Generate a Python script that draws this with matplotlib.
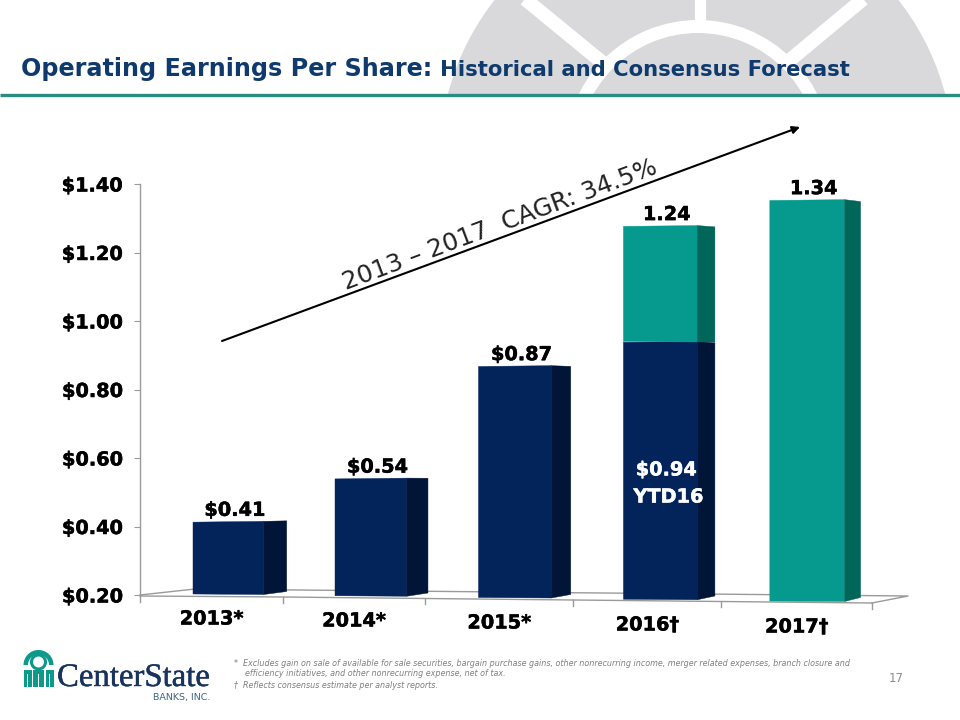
import matplotlib
matplotlib.use("Agg")
import matplotlib.pyplot as plt
import matplotlib.patheffects as pe
from matplotlib.patches import Circle, Wedge, Rectangle, Polygon

# ---- data ----
categories = ["2013*", "2014*", "2015*", "2016†", "2017†"]
base_values = [0.41, 0.54, 0.87, 0.945, None]
forecast_increment = [None, None, None, 0.335, 1.16]
value_labels = ["$0.41", "$0.54", "$0.87", "1.24", "1.34"]
y_ticks = [0.20, 0.40, 0.60, 0.80, 1.00, 1.20, 1.40]
y_tick_labels = ["$0.20", "$0.40", "$0.60", "$0.80", "$1.00", "$1.20", "$1.40"]
ytd_value_label = "$0.94"
ytd_period_label = "YTD16"
cagr_label = "2013 – 2017  CAGR: 34.5%"
title_main = "Operating Earnings Per Share:"
title_sub = "Historical and Consensus Forecast"
footnote_1a = "*  Excludes gain on sale of available for sale securities, bargain purchase gains, other nonrecurring income, merger related expenses, branch closure and"
footnote_1b = "efficiency initiatives, and other nonrecurring expense, net of tax."
footnote_2 = "†  Reflects consensus estimate per analyst reports."
page_number = "17"

# ---- style ----
NAVY, NAVY_SIDE = "#03245B", "#011538"
TEAL, TEAL_SIDE = "#069A8E", "#00665A"
GRID = "#9A9A9A"
W, H = 960, 720
AX_L, AX_R, AX_T, AX_B = 140, 872, 184, 595
PX_X = (AX_R - AX_L) / 5.0
PX_Y = (AX_B - AX_T) / 1.2
HEAVY_K = [pe.withStroke(linewidth=0.35, foreground="black")]
HEAVY_W = [pe.withStroke(linewidth=0.35, foreground="white")]
LABEL_SIZE = 13.9

fig = plt.figure(figsize=(9.6, 7.2), dpi=100, facecolor="white")

# ---- slide decoration, in pixel space ----
bg = fig.add_axes([0, 0, 1, 1], zorder=0)
bg.set_xlim(0, W); bg.set_ylim(H, 0); bg.axis("off")
EMB = "#D9D9DB"
bg.add_patch(Circle((696.5, 159), 257, fc=EMB, ec="none", zorder=1))
bg.add_patch(Wedge((698, 153), 133, 0, 360, width=13, fc="white", ec="none", zorder=2))
bg.plot([699.5, 699.5], [-5, 22], color="white", lw=8, zorder=2, solid_capstyle="butt")
bg.plot([514, 603], [-10, 63], color="white", lw=10, zorder=2, solid_capstyle="butt")
bg.plot([874, 790], [-10, 60], color="white", lw=10, zorder=2, solid_capstyle="butt")
bg.add_patch(Rectangle((0, 94), W, H, fc="white", ec="none", zorder=3))
bg.plot([0, W], [94.5, 94.5], color="#2A8C82", lw=2.4, zorder=4, solid_capstyle="butt")
bg.text(21, 76, title_main, color="#0F3A6D", fontsize=17.2, fontweight="bold", zorder=5)
bg.text(440, 76, title_sub, color="#0F3A6D", fontsize=15.2, fontweight="bold", zorder=5)

# logo
LT = "#0E9A8A"
bg.add_patch(Wedge((38.5, 665), 15, 180, 360, fc=LT, ec="none", zorder=5))
bg.add_patch(Wedge((38.5, 665), 10.5, 180, 360, fc="white", ec="none", zorder=6))
bg.add_patch(Circle((38.5, 662), 7, fc="white", ec=LT, lw=2.2, zorder=7))
for x0, wd in [(23.5, 8), (33, 11), (45.5, 8)]:
    bg.add_patch(Rectangle((x0, 670), wd, 17, fc=LT, ec="none", zorder=7))
    bg.add_patch(Rectangle((x0 + wd / 2 - 0.8, 674), 1.6, 13, fc="white", ec="none", zorder=8))
bg.text(57, 686, "CenterState", family="Liberation Serif", fontsize=23.6, color="#18335F", zorder=5,
        path_effects=[pe.withStroke(linewidth=0.3, foreground="#18335F")])
bg.text(210, 700, "BANKS, INC.", ha="right", fontsize=6.8, color="#3F6285", zorder=5)

# footnotes
FOOT = "#7F7F7F"
FS = 5.78
bg.text(234, 663, footnote_1a, fontsize=FS, style="italic", color=FOOT, va="center", zorder=5)
bg.text(245, 673.5, footnote_1b, fontsize=FS, style="italic", color=FOOT, va="center", zorder=5)
bg.text(234, 686, footnote_2, fontsize=FS, style="italic", color=FOOT, va="center", zorder=5)
bg.text(889, 679, page_number, fontsize=8.5, color="#8C8C8C", va="center", zorder=5)

# ---- chart axes ----
ax = fig.add_axes([AX_L / W, 1 - AX_B / H, (AX_R - AX_L) / W, (AX_B - AX_T) / H], zorder=1)
ax.patch.set_alpha(0)
ax.set_xlim(0, 5)
ax.set_ylim(0.20, 1.40)
for s in ("top", "right", "bottom"):
    ax.spines[s].set_visible(False)
ax.spines["left"].set_color(GRID)
ax.spines["left"].set_linewidth(1.0)
ax.set_xticks([])
ax.set_yticks(y_ticks)
ax.set_yticklabels(y_tick_labels, fontsize=LABEL_SIZE, fontweight="bold", color="black",
                   path_effects=HEAVY_K)
ax.tick_params(axis="y", length=4, width=0.8, color=GRID, pad=8.5)


def dy(px):
    """pixel offset downwards -> data offset"""
    return -px / PX_Y


# floor of the 3-D plot
tick_slots = [0, 0.977, 1.947, 2.96, 3.97, 5]
floor_drop = [1, 2, 3.5, 5, 6.5, 8]
fl = dict(color=GRID, lw=1.0, clip_on=False, zorder=2)
ax.plot(tick_slots, [0.2 + dy(d) for d in floor_drop], **fl)
ax.plot([0, 0.376, 5.246, 5], [0.2, 0.2 + dy(-6), 0.2 + dy(1), 0.2 + dy(8)], **fl)
for t, d in zip(tick_slots, floor_drop):
    ax.plot([t, t], [0.2 + dy(d), 0.2 + dy(d + 5.5)], **fl)

SCALE = 346.0 / PX_Y


def front_left(i):
    return 0.362 + 0.965 * i + 0.005 * i * i


def front_w(i):
    return 0.483 + 0.007 * i


def side_w(i):
    return 0.157 - 0.012 * i


def y_at(i, v):
    return 0.2 + dy(-1 + 1.75 * i) + (v - 0.2) * SCALE


def draw_segment(i, v0, v1, front, side):
    x0 = front_left(i)
    x1 = x0 + front_w(i)
    x2 = x1 + side_w(i)
    y0, y1 = y_at(i, v0), y_at(i, v1)
    rise = 3 + 0.25 * i if v0 == 0.2 else 0
    drop = -0.5 + 0.6 * i
    ax.add_patch(Polygon([(x0, y0), (x1, y0 + dy(0.5)), (x1, y1), (x0, y1 + dy(0.8))],
                         closed=True, fc=front, ec=front, lw=0.3, clip_on=False, zorder=3))
    ax.add_patch(Polygon([(x1, y0 + dy(0.5)), (x1, y1), (x2, y1 + dy(drop)), (x2, y0 + dy(0.5 - rise))],
                         closed=True, fc=side, ec=side, lw=0.3, clip_on=False, zorder=3))


tops = []
for i in range(len(categories)):
    v = 0.2
    if base_values[i] is not None:
        draw_segment(i, v, base_values[i], NAVY, NAVY_SIDE)
        v = base_values[i]
    if forecast_increment[i] is not None:
        top = v + forecast_increment[i]
        draw_segment(i, v, top, TEAL, TEAL_SIDE)
        v = top
    tops.append(v)

for i, lab in enumerate(value_labels):
    xc = front_left(i) + front_w(i) / 2
    ax.annotate(lab, xy=(xc, y_at(i, tops[i])), xytext=(6.5, 11), textcoords="offset pixels",
                ha="center", va="center", fontsize=LABEL_SIZE, fontweight="bold", color="black",
                annotation_clip=False, zorder=5, path_effects=HEAVY_K)

xc3 = front_left(3) + front_w(3) / 2
ax.text(xc3 + 0.04, 0.565, ytd_value_label, ha="center", va="center", fontsize=LABEL_SIZE,
        fontweight="bold", color="white", zorder=6, path_effects=HEAVY_W)
ax.text(xc3 + 0.055, 0.486, ytd_period_label, ha="center", va="center", fontsize=LABEL_SIZE,
        fontweight="bold", color="white", zorder=6, path_effects=HEAVY_W)

for i, lab in enumerate(categories):
    xm = (tick_slots[i] + tick_slots[i + 1]) / 2
    ax.text(xm, 0.2 + dy(24 + 2 * i), lab, ha="center", va="center", fontsize=LABEL_SIZE,
            fontweight="bold", color="black", clip_on=False, path_effects=HEAVY_K)

# ---- growth arrow, in pixel space ----
top_ax = fig.add_axes([0, 0, 1, 1], zorder=2)
top_ax.set_xlim(0, W); top_ax.set_ylim(H, 0); top_ax.axis("off")
top_ax.patch.set_alpha(0)
top_ax.annotate("", xy=(800, 127), xytext=(222, 341),
                arrowprops=dict(arrowstyle="-|>", color="black", lw=1.5, mutation_scale=11, shrinkA=0, shrinkB=0))
top_ax.text(500, 225, cagr_label, rotation=20.5, rotation_mode="anchor", ha="center", va="center",
            fontsize=17.8, color="#222222")

fig.savefig("out.png", dpi=100)
